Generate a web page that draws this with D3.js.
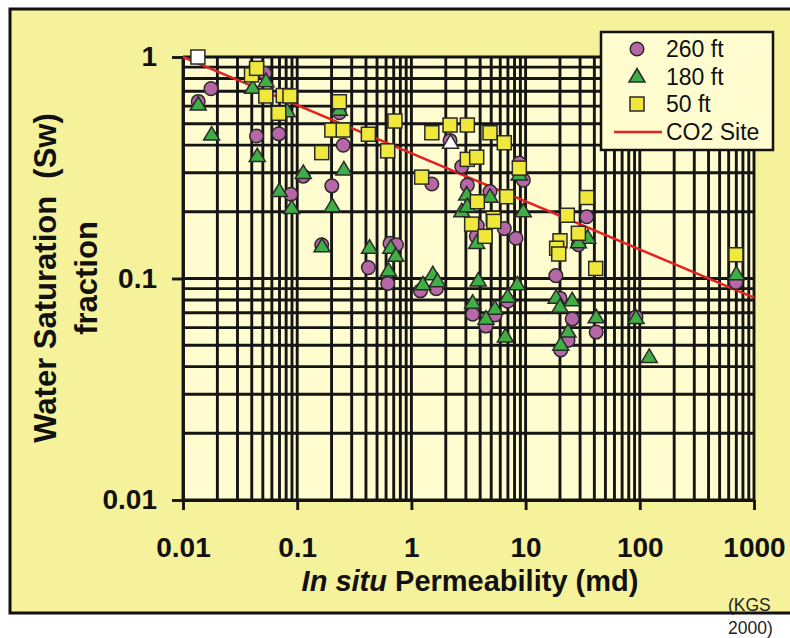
<!DOCTYPE html>
<html>
<head>
<meta charset="utf-8">
<script src="https://cdn.jsdelivr.net/npm/d3@7"></script>
<style>
  body { margin: 0; background: #fff; }
  text { font-family: "Liberation Sans", Arial, sans-serif; }
</style>
</head>
<body>
<svg width="790" height="638"></svg>
<script>
// permeability (md), water saturation (fraction)
var ft260 = [
  [0.0176, 0.72], [0.0136, 0.63], [0.044, 0.44], [0.042, 0.87], [0.052, 0.845],
  [0.069, 0.45], [0.234, 0.56], [0.253, 0.40], [0.113, 0.29], [0.201, 0.262],
  [0.088, 0.24], [0.164, 0.142], [0.42, 0.112], [0.65, 0.144], [0.74, 0.142],
  [0.62, 0.095], [1.2, 0.088], [1.65, 0.09], [2.18, 0.42], [2.76, 0.32],
  [1.51, 0.267], [3.09, 0.264], [4.88, 0.247], [8.8, 0.332], [9.55, 0.278],
  [3.78, 0.173], [6.51, 0.168], [8.24, 0.152], [3.7, 0.155], [3.44, 0.069],
  [5.4, 0.0685], [6.97, 0.079], [4.5, 0.061], [18.4, 0.103], [20.0, 0.0815],
  [25.6, 0.0656], [41.5, 0.0573], [23.5, 0.0525], [20.3, 0.0476], [92.7, 0.067],
  [34.3, 0.19], [29, 0.142], [695, 0.096]
];
var ft180 = [
  [0.0136, 0.607], [0.0178, 0.444], [0.0447, 0.355], [0.0407, 0.722], [0.0533, 0.774],
  [0.0818, 0.566], [0.234, 0.575], [0.256, 0.309], [0.113, 0.298], [0.0697, 0.247],
  [0.0895, 0.207], [0.203, 0.211], [0.165, 0.139], [0.43, 0.137], [0.66, 0.137],
  [0.73, 0.126], [0.63, 0.108], [1.26, 0.0936], [1.54, 0.104], [1.69, 0.0967],
  [3.85, 0.0975], [8.45, 0.0936], [6.97, 0.0823], [3.44, 0.0773], [5.4, 0.0727],
  [4.5, 0.0655], [6.65, 0.0545], [3.05, 0.238], [4.88, 0.233], [2.76, 0.20],
  [3.09, 0.211], [9.55, 0.20], [8.8, 0.293], [3.73, 0.144], [35, 0.152],
  [29, 0.145], [18.5, 0.0815], [25.6, 0.0793], [20, 0.0742], [41.5, 0.0665],
  [23.5, 0.0573], [20.3, 0.05], [92.7, 0.066], [121, 0.044], [700, 0.104]
];
var ft50 = [
  [0.0398, 0.83], [0.0441, 0.889], [0.0531, 0.667], [0.0755, 0.67], [0.0865, 0.667],
  [0.0689, 0.557], [0.234, 0.628], [0.201, 0.468], [0.253, 0.468], [0.42, 0.448],
  [0.164, 0.37], [0.718, 0.514], [0.62, 0.377], [1.51, 0.455], [2.18, 0.493],
  [3.09, 0.493], [4.88, 0.455], [6.51, 0.41], [3.09, 0.345], [3.73, 0.353],
  [8.81, 0.315], [1.23, 0.287], [6.85, 0.234], [3.78, 0.222], [23.2, 0.193],
  [5.21, 0.187], [3.37, 0.176], [5.27, 0.181], [4.41, 0.155], [20, 0.148],
  [18.7, 0.137], [19.5, 0.129], [29, 0.16], [34.3, 0.232], [41.1, 0.111],
  [695, 0.128]
];
var whiteSquare = [[0.0135, 1.0]];
var whiteTriangle = [[2.2, 0.408]];
var co2Site = [[0.01, 1.0], [1000, 0.082]];

var xTicks = [0.01, 0.1, 1, 10, 100, 1000];
var yTicks = [0.01, 0.1, 1];
var legendLabels = ['260 ft', '180 ft', '50 ft', 'CO2 Site'];

var colors = {c260: '#b767a8', c180: '#3fae45', c50: '#f1e83c', co2: '#e32222'};

var svg = d3.select('svg');

// outer panel
svg.append('rect')
  .attr('x', 10).attr('y', 9)
  .attr('width', 800).attr('height', 604)
  .attr('fill', '#f6f19b')
  .attr('stroke', '#111').attr('stroke-width', 3);

var xScale = d3.scaleLog().domain([0.01, 1000]).range([183, 754]);
var yScale = d3.scaleLog().domain([0.01, 1]).range([500, 57]);

svg.append('rect')
  .attr('x', 183).attr('y', 57)
  .attr('width', 754 - 183).attr('height', 500 - 57)
  .attr('fill', '#fffdd0');

// grid
var grid = svg.append('g').attr('stroke', '#151515').attr('stroke-width', 2.9);
grid.selectAll('line.v')
  .data(xScale.ticks())
  .enter().append('line')
  .attr('x1', function(d) { return xScale(d); })
  .attr('x2', function(d) { return xScale(d); })
  .attr('y1', 57).attr('y2', 500);
grid.selectAll('line.h')
  .data(yScale.ticks())
  .enter().append('line')
  .attr('y1', function(d) { return yScale(d); })
  .attr('y2', function(d) { return yScale(d); })
  .attr('x1', 183).attr('x2', 754);

var fmt = function(d) { return String(d); };

var xAxis = svg.append('g')
  .attr('transform', 'translate(0,500)')
  .call(d3.axisBottom(xScale).tickValues(xTicks).tickFormat(fmt)
    .tickSize(10).tickSizeOuter(0).tickPadding(27));
var yAxis = svg.append('g')
  .attr('transform', 'translate(183,0)')
  .call(d3.axisLeft(yScale).tickValues(yTicks).tickFormat(fmt)
    .tickSize(11).tickSizeOuter(0).tickPadding(15));

[xAxis, yAxis].forEach(function(a) {
  a.selectAll('path, line').attr('stroke', '#151515').attr('stroke-width', 2.9);
  a.selectAll('text')
    .attr('fill', '#111')
    .style('font-size', '28px')
    .style('font-weight', 'bold');
});

// CO2 site line
svg.append('path')
  .datum(co2Site)
  .attr('fill', 'none')
  .attr('stroke', colors.co2)
  .attr('stroke-width', 2.5)
  .attr('d', d3.line()
    .x(function(d) { return xScale(d[0]); })
    .y(function(d) { return yScale(d[1]); }));

var triPath = 'M0,-8.5L8,5L-8,5Z';

function drawCircles(data, fill) {
  svg.append('g').selectAll('circle')
    .data(data).enter().append('circle')
    .attr('cx', function(d) { return xScale(d[0]); })
    .attr('cy', function(d) { return yScale(d[1]); })
    .attr('r', 6.8)
    .attr('fill', fill).attr('stroke', '#2a2a2a').attr('stroke-width', 1.5);
}
function drawTriangles(data, fill) {
  svg.append('g').selectAll('path')
    .data(data).enter().append('path')
    .attr('d', triPath)
    .attr('transform', function(d) {
      return 'translate(' + [xScale(d[0]), yScale(d[1])] + ')';
    })
    .attr('fill', fill).attr('stroke', '#2a2a2a').attr('stroke-width', 1.5);
}
function drawSquares(data, fill) {
  svg.append('g').selectAll('rect')
    .data(data).enter().append('rect')
    .attr('x', function(d) { return xScale(d[0]) - 7; })
    .attr('y', function(d) { return yScale(d[1]) - 7; })
    .attr('width', 14).attr('height', 14)
    .attr('fill', fill).attr('stroke', '#2a2a2a').attr('stroke-width', 1.5);
}

drawCircles(ft260, colors.c260);
drawTriangles(ft180, colors.c180);
drawSquares(ft50, colors.c50);
drawSquares(whiteSquare, '#ffffff');
drawTriangles(whiteTriangle, '#ffffff');

// axis titles
svg.append('text')
  .attr('transform', 'translate(56,278) rotate(-90)')
  .attr('text-anchor', 'middle')
  .style('font-size', '31px').style('font-weight', 'bold')
  .style('white-space', 'pre')
  .attr('fill', '#111')
  .text('Water Saturation  (Sw)');
svg.append('text')
  .attr('transform', 'translate(97,278) rotate(-90)')
  .attr('text-anchor', 'middle')
  .style('font-size', '31px').style('font-weight', 'bold')
  .attr('fill', '#111')
  .text('fraction');

var xt = svg.append('text')
  .attr('x', 470).attr('y', 591)
  .attr('text-anchor', 'middle')
  .style('font-size', '29px').style('font-weight', 'bold')
  .attr('fill', '#111');
xt.append('tspan').style('font-style', 'italic').text('In situ');
xt.append('tspan').text(' Permeability (md)');

svg.append('text').attr('x', 728).attr('y', 611)
  .style('font-size', '17.5px').attr('fill', '#222').text('(KGS');
svg.append('text').attr('x', 728).attr('y', 634)
  .style('font-size', '17.5px').attr('fill', '#222').text('2000)');

// legend
var legend = svg.append('g');
legend.append('rect')
  .attr('x', 601).attr('y', 32)
  .attr('width', 172).attr('height', 118)
  .attr('fill', '#fffdd0')
  .attr('stroke', '#111').attr('stroke-width', 2.5);

var rowY = [49, 77, 104, 132];
legend.append('circle').attr('cx', 637).attr('cy', rowY[0]).attr('r', 6.8)
  .attr('fill', colors.c260).attr('stroke', '#2a2a2a').attr('stroke-width', 1.5);
legend.append('path').attr('d', triPath)
  .attr('transform', 'translate(637,' + rowY[1] + ')')
  .attr('fill', colors.c180).attr('stroke', '#2a2a2a').attr('stroke-width', 1.5);
legend.append('rect').attr('x', 630).attr('y', rowY[2] - 7)
  .attr('width', 14).attr('height', 14)
  .attr('fill', colors.c50).attr('stroke', '#2a2a2a').attr('stroke-width', 1.5);
legend.append('line')
  .attr('x1', 614).attr('x2', 662)
  .attr('y1', rowY[3]).attr('y2', rowY[3])
  .attr('stroke', colors.co2).attr('stroke-width', 2.5);

legend.selectAll('text.lab')
  .data(legendLabels)
  .enter().append('text')
  .attr('x', 666)
  .attr('y', function(d, i) { return rowY[i] + 8; })
  .style('font-size', '23px')
  .attr('fill', '#111')
  .text(function(d) { return d; });
</script>
</body>
</html>
